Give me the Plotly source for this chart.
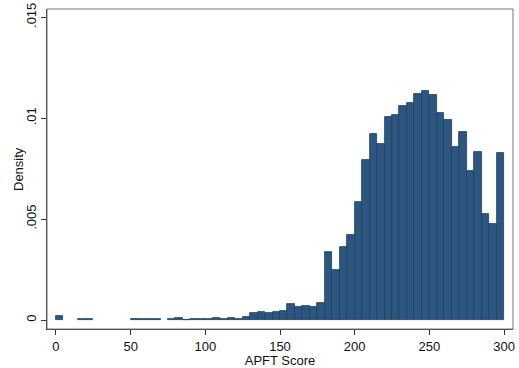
import plotly.graph_objects as go

# Histogram: 60 bins of width 5 from 0 to 300 (APFT Score), density
bin_starts = list(range(0, 300, 5))
density = [
    0.00021, 0, 0, 0.00003, 0.00003, 0, 0, 0, 0, 0,          # 0-50
    0.00003, 0.00003, 0.00004, 0.00003, 0, 0.00005, 0.0001, 0.00002, 0.00005, 0.00005,  # 50-100
    0.00004, 0.0001, 0.00007, 0.0001, 0.00007, 0.00013, 0.00037, 0.00042, 0.00033, 0.00039,  # 100-150
    0.00047, 0.00078, 0.00066, 0.0007, 0.00063, 0.00086, 0.00338, 0.00248, 0.0036, 0.00422,  # 150-200
    0.00584, 0.00792, 0.00922, 0.0087, 0.01008, 0.01015, 0.01061, 0.01073, 0.01119, 0.01134,  # 200-250
    0.01114, 0.01025, 0.0099, 0.00855, 0.00931, 0.00738, 0.00833, 0.00525, 0.00475, 0.00828,  # 250-300
]
bin_width = 5
x_ticks = [0, 50, 100, 150, 200, 250, 300]
y_ticks = [0, 0.005, 0.01, 0.015]
y_tick_labels = ["0", ".005", ".01", ".015"]
x_title = "APFT Score"
y_title = "Density"

centers = [s + bin_width / 2 for s in bin_starts]
heights = [d if d > 0 else None for d in density]

fig = go.Figure(go.Bar(
    x=centers, y=heights, width=bin_width,
    marker=dict(color="#2c5680", line=dict(color="#1c3f62", width=0.8)),
))

font = dict(family="Liberation Sans, Arial, sans-serif", size=13, color="#111")
fig.update_layout(
    width=519, height=368,
    margin=dict(l=47, r=6, t=9, b=39, autoexpand=False),
    paper_bgcolor="white", plot_bgcolor="white",
    showlegend=False, bargap=0,
    font=font,
    xaxis=dict(
        range=[-6, 306], tickvals=x_ticks, ticks="outside", ticklen=5,
        tickcolor="#333", showgrid=False, zeroline=False,
        showline=True, linecolor="#333", linewidth=1, mirror=False,
        title=dict(text=x_title, font=font),
        tickfont=font, automargin=False, ticklabeloverflow="allow",
    ),
    yaxis=dict(
        range=[-0.000446, 0.01541], tickvals=y_ticks, ticktext=y_tick_labels,
        ticks="outside", ticklen=5, tickcolor="#333", tickangle=-90,
        showgrid=False, zeroline=False,
        showline=True, linecolor="#333", linewidth=1, mirror=False,
        tickfont=font, automargin=False, ticklabeloverflow="allow",
    ),
    annotations=[dict(text=y_title, xref="paper", yref="paper", x=-29 / 466, y=0.5,
                      xanchor="center", yanchor="middle", textangle=-90,
                      showarrow=False, font=font)],
    shapes=[dict(type="rect", xref="paper", yref="paper", x0=0, y0=0, x1=1, y1=1,
                 line=dict(color="#777", width=1))],
)

fig.write_html("out.html", config={"displayModeBar": False},
               post_script="document.body.style.margin='0';")
